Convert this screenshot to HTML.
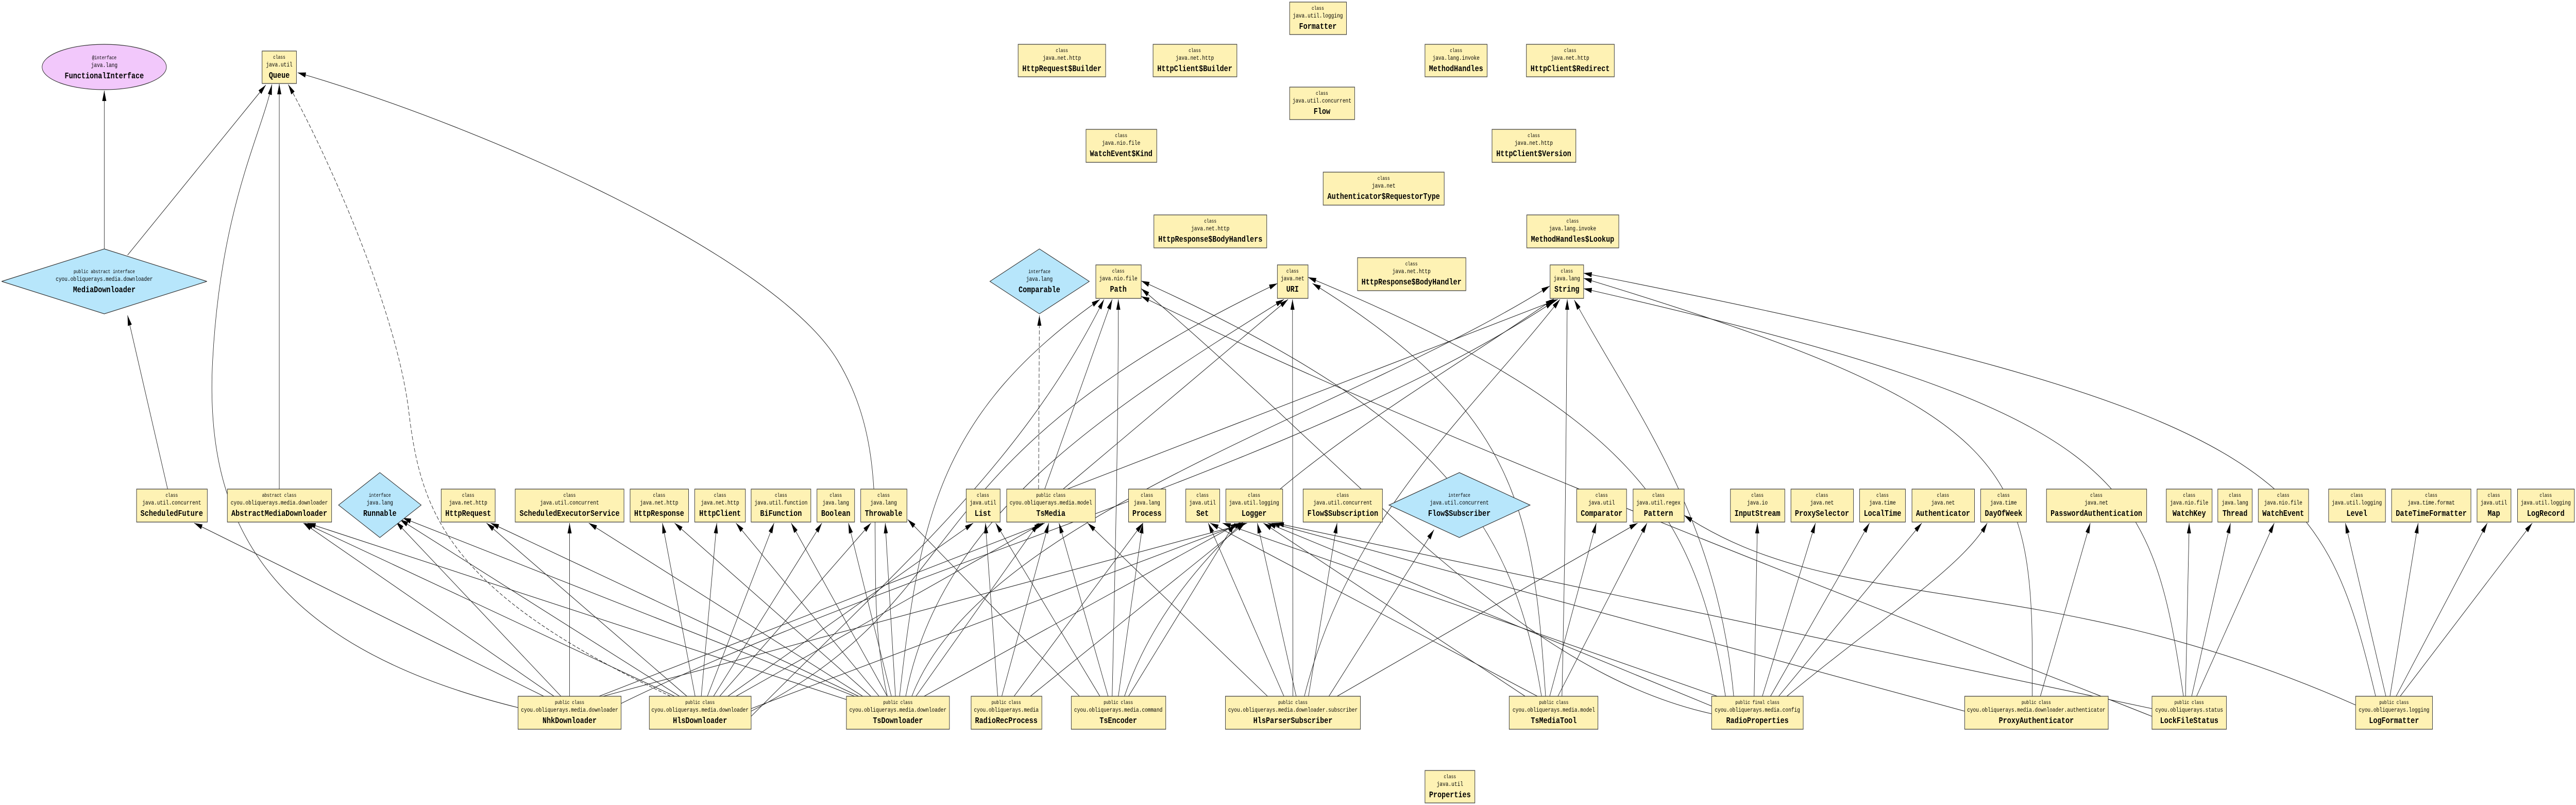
<!DOCTYPE html>
<html><head><meta charset="utf-8"><style>
html,body{margin:0;padding:0;background:#fff;width:100%;height:100%;overflow:hidden}
svg{display:block;width:100vw;height:100vh}
text{font-family:"Liberation Mono",monospace;text-anchor:middle;fill:#000}
.s{font-size:10px}
.p{font-size:12px}
.n{font-size:17px;font-weight:bold}
rect{fill:#fef2b4;stroke:#333;stroke-width:1.2}
.d{fill:#b7e6fb;stroke:#333;stroke-width:1.2}
.e path,.e line{fill:none;stroke:#222;stroke-width:1.1;marker-end:url(#a)}
.ds{stroke-dasharray:8 4}
</style></head><body>
<svg viewBox="0 0 6300 1562" preserveAspectRatio="none" xmlns="http://www.w3.org/2000/svg">
<defs><marker id="a" markerUnits="userSpaceOnUse" markerWidth="20" markerHeight="10" refX="20" refY="5" orient="auto"><path d="M0,0 L20,5 L0,10 z" fill="#000"/></marker></defs>

<g class="e">
<line x1="255" y1="483" x2="255" y2="176"/>
<path d="M312 495 L650 165"/>
<path d="M410 949 L312 612"/>
<line x1="683" y1="949" x2="683" y2="163"/>
<path d="M1267 1373 C640 1250 500 1000 520 700 S 640 260 665 164"/>
<path class="ds" d="M1640 1351 C1100 1150 1030 1000 1000 800 S 800 300 705 164"/>
<path d="M2170 1351 C2100 1100 2200 900 2049 700 S 1200 250 728 141"/>
<path class="ds" d="M2540 949 L2542 612"/>
<path d="M2555 949 L2720 581"/>
<path d="M2600 949 L3150 581"/>
<path d="M2610 949 L3810 581"/>
<path d="M1519 1365 C2200 1100 3200 900 3800 585"/>
<path d="M1837 1380 C2400 1150 2200 900 3124 550"/>
<path d="M1837 1390 C2200 1100 2500 900 2700 581"/>
<path d="M2200 1351 C2250 1000 2300 800 2690 581"/>
<path d="M2215 1351 C2300 1000 2700 800 3140 581"/>
<path d="M2230 1351 C2400 1000 3300 800 3790 555"/>
<path d="M2720 1351 C2730 1000 2735 800 2735 581"/>
<path d="M2750 1351 C2900 1000 3400 800 3800 580"/>
<path d="M3162 1351 C3162 1000 3161 800 3161 581"/>
<path d="M3190 1351 C3300 1000 3600 800 3815 581"/>
<path d="M3780 1351 C3750 1000 3720 800 3210 550"/>
<path d="M3770 1351 C3700 1000 3500 800 2791 545"/>
<path d="M3820 1351 C3830 1000 3830 800 3833 581"/>
<path d="M4220 1351 C4150 1000 4000 800 3199 538"/>
<path d="M4240 1351 C4200 1000 4000 800 3850 582"/>
<path d="M4186 1385 C3700 1300 3300 900 2791 560"/>
<path d="M4970 1351 C4975 900 4950 800 3873 540"/>
<path d="M5340 1351 C5260 920 5200 800 3873 560"/>
<path d="M5263 1390 C4500 1150 3500 850 2791 575"/>
<path d="M5810 1351 C5680 920 5600 800 3873 530"/>
<line x1="1330" y1="1351" x2="475" y2="1015"/>
<line x1="1355" y1="1351" x2="742" y2="1015"/>
<line x1="1372" y1="1351" x2="968" y2="1012"/>
<line x1="1393" y1="1351" x2="1393" y2="1015"/>
<line x1="1465" y1="1351" x2="2555" y2="1015"/>
<line x1="1475" y1="1351" x2="3050" y2="1015"/>
<line x1="1650" y1="1351" x2="745" y2="1015"/>
<line x1="1662" y1="1351" x2="978" y2="1008"/>
<line x1="1680" y1="1351" x2="1190" y2="1015"/>
<line x1="1700" y1="1351" x2="1620" y2="1015"/>
<line x1="1715" y1="1351" x2="1753" y2="1015"/>
<line x1="1730" y1="1351" x2="1893" y2="1015"/>
<line x1="1745" y1="1351" x2="2010" y2="1015"/>
<line x1="1760" y1="1351" x2="2130" y2="1015"/>
<line x1="1780" y1="1351" x2="2380" y2="1015"/>
<line x1="1800" y1="1351" x2="2550" y2="1015"/>
<line x1="1837" y1="1375" x2="3040" y2="1015"/>
<line x1="2080" y1="1360" x2="752" y2="1015"/>
<line x1="2090" y1="1351" x2="985" y2="1005"/>
<line x1="2100" y1="1351" x2="1200" y2="1015"/>
<line x1="2110" y1="1351" x2="1440" y2="1015"/>
<line x1="2130" y1="1351" x2="1650" y2="1015"/>
<line x1="2150" y1="1351" x2="1800" y2="1015"/>
<line x1="2170" y1="1351" x2="1935" y2="1015"/>
<line x1="2180" y1="1351" x2="2075" y2="1015"/>
<line x1="2190" y1="1351" x2="2165" y2="1015"/>
<line x1="2240" y1="1351" x2="2540" y2="1015"/>
<line x1="2260" y1="1351" x2="3030" y2="1015"/>
<line x1="2440" y1="1351" x2="2410" y2="1015"/>
<line x1="2450" y1="1351" x2="2565" y2="1015"/>
<line x1="2480" y1="1351" x2="2795" y2="1015"/>
<line x1="2520" y1="1351" x2="3045" y2="1015"/>
<line x1="2640" y1="1351" x2="2220" y2="1008"/>
<line x1="2690" y1="1351" x2="2435" y2="1015"/>
<line x1="2710" y1="1351" x2="2590" y2="1015"/>
<line x1="2735" y1="1351" x2="2795" y2="1015"/>
<line x1="2760" y1="1351" x2="3020" y2="1015"/>
<line x1="3100" y1="1351" x2="2660" y2="1015"/>
<line x1="3140" y1="1351" x2="2955" y2="1015"/>
<line x1="3170" y1="1351" x2="3075" y2="1015"/>
<line x1="3200" y1="1351" x2="3270" y2="1015"/>
<line x1="3250" y1="1351" x2="3507" y2="1028"/>
<line x1="3270" y1="1351" x2="4005" y2="1015"/>
<line x1="3730" y1="1351" x2="3090" y2="1015"/>
<line x1="3760" y1="1351" x2="2960" y2="1015"/>
<line x1="3790" y1="1351" x2="3904" y2="1015"/>
<line x1="3810" y1="1351" x2="4028" y2="1015"/>
<line x1="4186" y1="1370" x2="3100" y2="1015"/>
<line x1="4200" y1="1351" x2="2990" y2="1015"/>
<line x1="4290" y1="1351" x2="4298" y2="1015"/>
<line x1="4310" y1="1351" x2="4440" y2="1015"/>
<line x1="4330" y1="1351" x2="4572" y2="1015"/>
<line x1="4350" y1="1351" x2="4700" y2="1015"/>
<path d="M4370 1351 C4600 1200 4800 1100 4860 1015"/>
<line x1="4990" y1="1351" x2="5112" y2="1015"/>
<line x1="4805" y1="1380" x2="3110" y2="1015"/>
<line x1="5345" y1="1351" x2="5354" y2="1015"/>
<line x1="5360" y1="1351" x2="5455" y2="1015"/>
<line x1="5372" y1="1351" x2="5562" y2="1015"/>
<line x1="5263" y1="1375" x2="3120" y2="1015"/>
<line x1="5835" y1="1351" x2="5736" y2="1015"/>
<line x1="5845" y1="1351" x2="5914" y2="1015"/>
<line x1="5860" y1="1351" x2="6083" y2="1015"/>
<line x1="5870" y1="1351" x2="6193" y2="1015"/>
<path d="M5761 1368 C5000 1100 4500 1200 4119 1000"/>
</g>

<ellipse cx="255" cy="130" rx="152" ry="44" fill="#f2c8fb" stroke="#333" stroke-width="1.2"/>
<text class="s" x="255" y="115">@interface</text><text class="p" x="255" y="130">java.lang</text><text class="n" x="255" y="152">FunctionalInterface</text>

<polygon class="d" points="255,483 506,546 255,609 4,546"/>
<text class="s" x="255" y="530">public abstract interface</text><text class="p" x="255" y="545">cyou.obliquerays.media.downloader</text><text class="n" x="255" y="567">MediaDownloader</text>
<polygon class="d" points="2542,483 2664,546 2542,609 2421,546"/>
<text class="s" x="2542" y="530">interface</text><text class="p" x="2542" y="545">java.lang</text><text class="n" x="2542" y="567">Comparable</text>
<polygon class="d" points="929,917 1030,980 929,1043 828,980"/>
<text class="s" x="929" y="964">interface</text><text class="p" x="929" y="979">java.lang</text><text class="n" x="929" y="1001">Runnable</text>
<polygon class="d" points="3569,917 3742,980 3569,1043 3397,980"/>
<text class="s" x="3569" y="964">interface</text><text class="p" x="3569" y="979">java.util.concurrent</text><text class="n" x="3569" y="1001">Flow$Subscriber</text>

<rect x="641" y="99" width="84" height="63"/><text class="s" x="683" y="114">class</text><text class="p" x="683" y="129">java.util</text><text class="n" x="683" y="151">Queue</text>
<rect x="3154" y="4" width="139" height="63"/><text class="s" x="3223" y="19">class</text><text class="p" x="3223" y="34">java.util.logging</text><text class="n" x="3223" y="56">Formatter</text>
<rect x="2490" y="86" width="214" height="63"/><text class="s" x="2597" y="101">class</text><text class="p" x="2597" y="116">java.net.http</text><text class="n" x="2597" y="138">HttpRequest$Builder</text>
<rect x="2820" y="86" width="205" height="63"/><text class="s" x="2922" y="101">class</text><text class="p" x="2922" y="116">java.net.http</text><text class="n" x="2922" y="138">HttpClient$Builder</text>
<rect x="3485" y="86" width="152" height="63"/><text class="s" x="3561" y="101">class</text><text class="p" x="3561" y="116">java.lang.invoke</text><text class="n" x="3561" y="138">MethodHandles</text>
<rect x="3733" y="86" width="215" height="63"/><text class="s" x="3840" y="101">class</text><text class="p" x="3840" y="116">java.net.http</text><text class="n" x="3840" y="138">HttpClient$Redirect</text>
<rect x="3154" y="169" width="159" height="63"/><text class="s" x="3233" y="184">class</text><text class="p" x="3233" y="199">java.util.concurrent</text><text class="n" x="3233" y="221">Flow</text>
<rect x="2656" y="251" width="173" height="64"/><text class="s" x="2742" y="266">class</text><text class="p" x="2742" y="281">java.nio.file</text><text class="n" x="2742" y="303">WatchEvent$Kind</text>
<rect x="3649" y="251" width="205" height="64"/><text class="s" x="3751" y="266">class</text><text class="p" x="3751" y="281">java.net.http</text><text class="n" x="3751" y="303">HttpClient$Version</text>
<rect x="3236" y="334" width="296" height="64"/><text class="s" x="3384" y="349">class</text><text class="p" x="3384" y="364">java.net</text><text class="n" x="3384" y="386">Authenticator$RequestorType</text>
<rect x="2822" y="417" width="276" height="64"/><text class="s" x="2960" y="432">class</text><text class="p" x="2960" y="447">java.net.http</text><text class="n" x="2960" y="469">HttpResponse$BodyHandlers</text>
<rect x="3734" y="417" width="225" height="64"/><text class="s" x="3846" y="432">class</text><text class="p" x="3846" y="447">java.lang.invoke</text><text class="n" x="3846" y="469">MethodHandles$Lookup</text>
<rect x="2680" y="514" width="111" height="65"/><text class="s" x="2735" y="529">class</text><text class="p" x="2735" y="544">java.nio.file</text><text class="n" x="2735" y="566">Path</text>
<rect x="3124" y="514" width="75" height="65"/><text class="s" x="3161" y="529">class</text><text class="p" x="3161" y="544">java.net</text><text class="n" x="3161" y="566">URI</text>
<rect x="3320" y="500" width="265" height="64"/><text class="s" x="3452" y="515">class</text><text class="p" x="3452" y="530">java.net.http</text><text class="n" x="3452" y="552">HttpResponse$BodyHandler</text>
<rect x="3791" y="514" width="82" height="65"/><text class="s" x="3832" y="529">class</text><text class="p" x="3832" y="544">java.lang</text><text class="n" x="3832" y="566">String</text>
<rect x="3485" y="1495" width="122" height="63"/><text class="s" x="3546" y="1510">class</text><text class="p" x="3546" y="1525">java.util</text><text class="n" x="3546" y="1547">Properties</text>

<rect x="334" y="949" width="173" height="64"/><text class="s" x="420" y="964">class</text><text class="p" x="420" y="979">java.util.concurrent</text><text class="n" x="420" y="1001">ScheduledFuture</text>
<rect x="556" y="949" width="255" height="64"/><text class="s" x="683" y="964">abstract class</text><text class="p" x="683" y="979">cyou.obliquerays.media.downloader</text><text class="n" x="683" y="1001">AbstractMediaDownloader</text>
<rect x="1079" y="949" width="132" height="64"/><text class="s" x="1145" y="964">class</text><text class="p" x="1145" y="979">java.net.http</text><text class="n" x="1145" y="1001">HttpRequest</text>
<rect x="1260" y="949" width="266" height="64"/><text class="s" x="1393" y="964">class</text><text class="p" x="1393" y="979">java.util.concurrent</text><text class="n" x="1393" y="1001">ScheduledExecutorService</text>
<rect x="1541" y="949" width="143" height="64"/><text class="s" x="1612" y="964">class</text><text class="p" x="1612" y="979">java.net.http</text><text class="n" x="1612" y="1001">HttpResponse</text>
<rect x="1699" y="949" width="124" height="64"/><text class="s" x="1761" y="964">class</text><text class="p" x="1761" y="979">java.net.http</text><text class="n" x="1761" y="1001">HttpClient</text>
<rect x="1837" y="949" width="146" height="64"/><text class="s" x="1910" y="964">class</text><text class="p" x="1910" y="979">java.util.function</text><text class="n" x="1910" y="1001">BiFunction</text>
<rect x="1998" y="949" width="92" height="64"/><text class="s" x="2044" y="964">class</text><text class="p" x="2044" y="979">java.lang</text><text class="n" x="2044" y="1001">Boolean</text>
<rect x="2105" y="949" width="113" height="64"/><text class="s" x="2161" y="964">class</text><text class="p" x="2161" y="979">java.lang</text><text class="n" x="2161" y="1001">Throwable</text>
<rect x="2363" y="949" width="83" height="64"/><text class="s" x="2404" y="964">class</text><text class="p" x="2404" y="979">java.util</text><text class="n" x="2404" y="1001">List</text>
<rect x="2462" y="949" width="217" height="64"/><text class="s" x="2570" y="964">public class</text><text class="p" x="2570" y="979">cyou.obliquerays.media.model</text><text class="n" x="2570" y="1001">TsMedia</text>
<rect x="2760" y="949" width="91" height="64"/><text class="s" x="2805" y="964">class</text><text class="p" x="2805" y="979">java.lang</text><text class="n" x="2805" y="1001">Process</text>
<rect x="2900" y="949" width="83" height="64"/><text class="s" x="2941" y="964">class</text><text class="p" x="2941" y="979">java.util</text><text class="n" x="2941" y="1001">Set</text>
<rect x="2998" y="949" width="139" height="64"/><text class="s" x="3067" y="964">class</text><text class="p" x="3067" y="979">java.util.logging</text><text class="n" x="3067" y="1001">Logger</text>
<rect x="3187" y="949" width="194" height="64"/><text class="s" x="3284" y="964">class</text><text class="p" x="3284" y="979">java.util.concurrent</text><text class="n" x="3284" y="1001">Flow$Subscription</text>
<rect x="3856" y="949" width="122" height="64"/><text class="s" x="3917" y="964">class</text><text class="p" x="3917" y="979">java.util</text><text class="n" x="3917" y="1001">Comparator</text>
<rect x="3994" y="949" width="125" height="64"/><text class="s" x="4056" y="964">class</text><text class="p" x="4056" y="979">java.util.regex</text><text class="n" x="4056" y="1001">Pattern</text>
<rect x="4232" y="949" width="133" height="64"/><text class="s" x="4298" y="964">class</text><text class="p" x="4298" y="979">java.io</text><text class="n" x="4298" y="1001">InputStream</text>
<rect x="4380" y="949" width="153" height="64"/><text class="s" x="4456" y="964">class</text><text class="p" x="4456" y="979">java.net</text><text class="n" x="4456" y="1001">ProxySelector</text>
<rect x="4548" y="949" width="112" height="64"/><text class="s" x="4604" y="964">class</text><text class="p" x="4604" y="979">java.time</text><text class="n" x="4604" y="1001">LocalTime</text>
<rect x="4676" y="949" width="153" height="64"/><text class="s" x="4752" y="964">class</text><text class="p" x="4752" y="979">java.net</text><text class="n" x="4752" y="1001">Authenticator</text>
<rect x="4844" y="949" width="112" height="64"/><text class="s" x="4900" y="964">class</text><text class="p" x="4900" y="979">java.time</text><text class="n" x="4900" y="1001">DayOfWeek</text>
<rect x="5005" y="949" width="245" height="64"/><text class="s" x="5127" y="964">class</text><text class="p" x="5127" y="979">java.net</text><text class="n" x="5127" y="1001">PasswordAuthentication</text>
<rect x="5298" y="949" width="112" height="64"/><text class="s" x="5354" y="964">class</text><text class="p" x="5354" y="979">java.nio.file</text><text class="n" x="5354" y="1001">WatchKey</text>
<rect x="5424" y="949" width="84" height="64"/><text class="s" x="5466" y="964">class</text><text class="p" x="5466" y="979">java.lang</text><text class="n" x="5466" y="1001">Thread</text>
<rect x="5523" y="949" width="123" height="64"/><text class="s" x="5584" y="964">class</text><text class="p" x="5584" y="979">java.nio.file</text><text class="n" x="5584" y="1001">WatchEvent</text>
<rect x="5695" y="949" width="139" height="64"/><text class="s" x="5764" y="964">class</text><text class="p" x="5764" y="979">java.util.logging</text><text class="n" x="5764" y="1001">Level</text>
<rect x="5849" y="949" width="194" height="64"/><text class="s" x="5946" y="964">class</text><text class="p" x="5946" y="979">java.time.format</text><text class="n" x="5946" y="1001">DateTimeFormatter</text>
<rect x="6058" y="949" width="83" height="64"/><text class="s" x="6099" y="964">class</text><text class="p" x="6099" y="979">java.util</text><text class="n" x="6099" y="1001">Map</text>
<rect x="6157" y="949" width="139" height="64"/><text class="s" x="6226" y="964">class</text><text class="p" x="6226" y="979">java.util.logging</text><text class="n" x="6226" y="1001">LogRecord</text>

<rect x="1267" y="1351" width="252" height="64"/><text class="s" x="1393" y="1366">public class</text><text class="p" x="1393" y="1381">cyou.obliquerays.media.downloader</text><text class="n" x="1393" y="1403">NhkDownloader</text>
<rect x="1588" y="1351" width="249" height="64"/><text class="s" x="1712" y="1366">public class</text><text class="p" x="1712" y="1381">cyou.obliquerays.media.downloader</text><text class="n" x="1712" y="1403">HlsDownloader</text>
<rect x="2070" y="1351" width="252" height="64"/><text class="s" x="2196" y="1366">public class</text><text class="p" x="2196" y="1381">cyou.obliquerays.media.downloader</text><text class="n" x="2196" y="1403">TsDownloader</text>
<rect x="2375" y="1351" width="173" height="64"/><text class="s" x="2461" y="1366">public class</text><text class="p" x="2461" y="1381">cyou.obliquerays.media</text><text class="n" x="2461" y="1403">RadioRecProcess</text>
<rect x="2620" y="1351" width="231" height="64"/><text class="s" x="2735" y="1366">public class</text><text class="p" x="2735" y="1381">cyou.obliquerays.media.command</text><text class="n" x="2735" y="1403">TsEncoder</text>
<rect x="2997" y="1351" width="330" height="64"/><text class="s" x="3162" y="1366">public class</text><text class="p" x="3162" y="1381">cyou.obliquerays.media.downloader.subscriber</text><text class="n" x="3162" y="1403">HlsParserSubscriber</text>
<rect x="3691" y="1351" width="217" height="64"/><text class="s" x="3800" y="1366">public class</text><text class="p" x="3800" y="1381">cyou.obliquerays.media.model</text><text class="n" x="3800" y="1403">TsMediaTool</text>
<rect x="4186" y="1351" width="224" height="64"/><text class="s" x="4298" y="1366">public final class</text><text class="p" x="4298" y="1381">cyou.obliquerays.media.config</text><text class="n" x="4298" y="1403">RadioProperties</text>
<rect x="4805" y="1351" width="351" height="64"/><text class="s" x="4980" y="1366">public class</text><text class="p" x="4980" y="1381">cyou.obliquerays.media.downloader.authenticator</text><text class="n" x="4980" y="1403">ProxyAuthenticator</text>
<rect x="5263" y="1351" width="182" height="64"/><text class="s" x="5354" y="1366">public class</text><text class="p" x="5354" y="1381">cyou.obliquerays.status</text><text class="n" x="5354" y="1403">LockFileStatus</text>
<rect x="5761" y="1351" width="188" height="64"/><text class="s" x="5855" y="1366">public class</text><text class="p" x="5855" y="1381">cyou.obliquerays.logging</text><text class="n" x="5855" y="1403">LogFormatter</text>
</svg>
</body></html>
